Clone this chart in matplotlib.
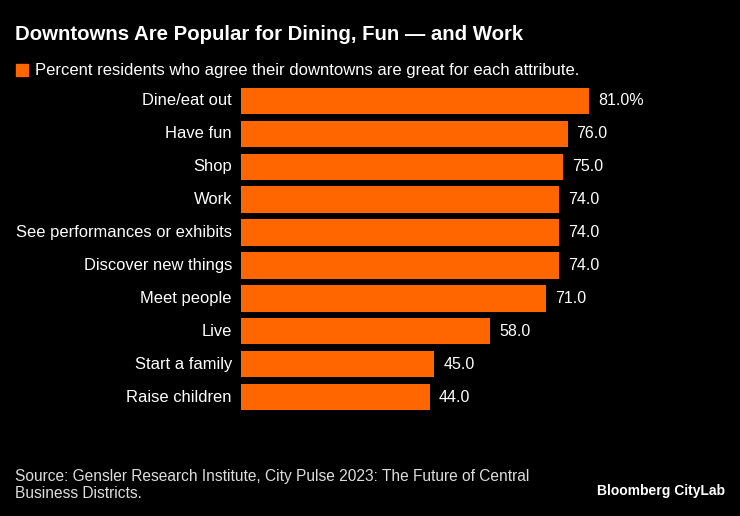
import matplotlib.pyplot as plt
from matplotlib.patches import Rectangle

plt.rcParams['font.family'] = ['Liberation Sans', 'DejaVu Sans']

attributes = ["Dine/eat out", "Have fun", "Shop", "Work", "See performances or exhibits",
              "Discover new things", "Meet people", "Live", "Start a family", "Raise children"]
percents = [81.0, 76.0, 75.0, 74.0, 74.0, 74.0, 71.0, 58.0, 45.0, 44.0]
value_labels = ["81.0%", "76.0", "75.0", "74.0", "74.0", "74.0", "71.0", "58.0", "45.0", "44.0"]

orange = "#ff6600"
W, H = 740, 516

fig = plt.figure(figsize=(W / 100, H / 100), dpi=100, facecolor="black")
ax = fig.add_axes([241 / W, 1 - 413.5 / H, 348 / W, 329 / H])
ax.set_facecolor("black")

ypos = list(range(len(attributes)))
ax.barh(ypos, percents, height=0.8, color=orange)
ax.set_xlim(0, 81)
ax.set_ylim(len(attributes) - 0.5, -0.5)
ax.set_yticks(ypos)
ax.set_yticklabels(attributes, color="white", fontsize=11.9, va="center")
ax.tick_params(axis="y", length=0, pad=6.5)
ax.set_xticks([])
for s in ax.spines.values():
    s.set_visible(False)

for y, v, lab in zip(ypos, percents, value_labels):
    ax.annotate(lab, (v, y), xytext=(6.5, 0), textcoords="offset points",
                va="center", ha="left", color="white", fontsize=11.5, clip_on=False)

fig.text(15 / W, 1 - 35 / H, "Downtowns Are Popular for Dining, Fun \u2014 and Work",
         color="white", fontsize=14.7, fontweight="bold", va="center", ha="left")
fig.patches.append(Rectangle((16 / W, 1 - 76 / H), 12 / W, 12 / H, transform=fig.transFigure,
                             color=orange))
fig.text(35 / W, 1 - 70 / H, "Percent residents who agree their downtowns are great for each attribute.",
         color="white", fontsize=12, va="center", ha="left")

fig.text(15 / W, 1 - 477 / H, "Source: Gensler Research Institute, City Pulse 2023: The Future of Central",
         color="#dddddd", fontsize=11.2, va="center", ha="left")
fig.text(15 / W, 1 - 494 / H, "Business Districts.",
         color="#dddddd", fontsize=11.2, va="center", ha="left")
fig.text(725 / W, 1 - 491 / H, "Bloomberg CityLab", color="white", fontsize=10,
         fontweight="bold", va="center", ha="right")

fig.savefig("out.png", dpi=100, facecolor="black")
